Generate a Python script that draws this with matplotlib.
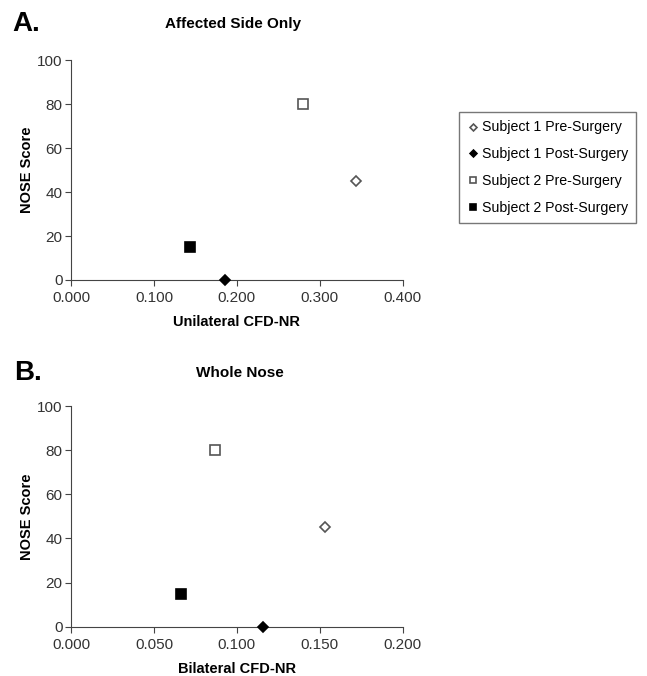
import matplotlib
matplotlib.use('Agg')
import matplotlib.pyplot as plt

plt.rcParams['font.family'] = ['Liberation Sans', 'DejaVu Sans']

# Series data
labels = ['Subject 1 Pre-Surgery', 'Subject 1 Post-Surgery',
          'Subject 2 Pre-Surgery', 'Subject 2 Post-Surgery']
nose_score = [45, 0, 80, 15]
unilateral_cfd = [0.344, 0.186, 0.280, 0.143]
bilateral_cfd = [0.153, 0.116, 0.087, 0.066]

# marker, size, face, edge
styles = [('D', 5, 'white', '#555555'),
          ('D', 5, 'black', 'black'),
          ('s', 7, 'white', '#555555'),
          ('s', 7, 'black', 'black')]

fig = plt.figure(figsize=(6.47, 6.76), dpi=100)
ax1 = fig.add_axes([0.1097, 0.5858, 0.513, 0.3254])
ax2 = fig.add_axes([0.1097, 0.0729, 0.513, 0.3265])


def draw_panel(ax, xs, xmax, xticks, xlabel):
    handles = []
    for x, y, lab, (m, s, fc, ec) in zip(xs, nose_score, labels, styles):
        h, = ax.plot([x], [y], linestyle='none', marker=m, markersize=s,
                     markerfacecolor=fc, markeredgecolor=ec, markeredgewidth=1.2,
                     label=lab, clip_on=False, zorder=3)
        handles.append(h)
    ax.set_xlim(0, xmax)
    ax.set_ylim(0, 100)
    ax.set_xticks(xticks)
    ax.set_xticklabels(['%.3f' % t for t in xticks])
    ax.set_yticks([0, 20, 40, 60, 80, 100])
    for side in ['top', 'right']:
        ax.spines[side].set_visible(False)
    for side in ['left', 'bottom']:
        ax.spines[side].set_color('#444444')
    ax.tick_params(direction='out', length=4, color='#444444',
                   labelsize=11, labelcolor='#333333')
    ax.tick_params(axis='x', pad=4)
    ax.tick_params(axis='y', pad=2)
    ax.set_xlabel(xlabel, fontsize=10.5, fontweight='bold', labelpad=7)
    ax.set_ylabel('NOSE Score', fontsize=10.5, fontweight='bold', labelpad=2)
    return handles


handles = draw_panel(ax1, unilateral_cfd, 0.4, [0.0, 0.1, 0.2, 0.3, 0.4],
                     'Unilateral CFD-NR')
draw_panel(ax2, bilateral_cfd, 0.2, [0.0, 0.05, 0.1, 0.15, 0.2],
           'Bilateral CFD-NR')

fig.text(233 / 647, 1 - 24 / 676, 'Affected Side Only', ha='center', va='center',
         fontsize=11, fontweight='bold')
fig.text(240 / 647, 1 - 373 / 676, 'Whole Nose', ha='center', va='center',
         fontsize=11, fontweight='bold')
fig.text(12 / 647, 1 - 24 / 676, 'A.', ha='left', va='center',
         fontsize=20, fontweight='bold')
fig.text(14 / 647, 1 - 373 / 676, 'B.', ha='left', va='center',
         fontsize=20, fontweight='bold')

leg = fig.legend(handles=handles, loc='upper left',
                 bbox_to_anchor=(459 / 647, 1 - 112 / 676),
                 fontsize=10.2, frameon=True, fancybox=False, markerscale=0.7,
                 handlelength=0.8, handletextpad=0.2, labelspacing=0.9,
                 borderpad=0.6, borderaxespad=0)
leg.get_frame().set_edgecolor('#555555')
leg.get_frame().set_linewidth(1.0)

fig.savefig('out.png', dpi=100)
